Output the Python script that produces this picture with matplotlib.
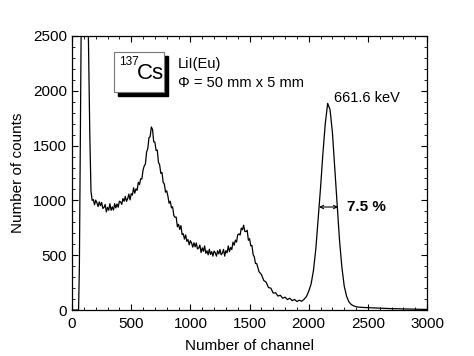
import numpy as np
import matplotlib
matplotlib.use("Agg")
import matplotlib.pyplot as plt
from matplotlib.patches import Rectangle
from matplotlib.ticker import MultipleLocator

plt.rcParams['font.family'] = ['Liberation Sans', 'DejaVu Sans']

# low-energy spike (goes off the top of the plot)
spike_ch = [0, 55, 62, 70, 80, 130, 138, 150]
spike_counts = [0, 0, 400, 1500, 3000, 3000, 2500, 1600]

# noisy part, read every 10 channels from 160 to 1560
fine_ch = np.arange(160, 1561, 10)
fine_counts = [
    1085, 1000, 1008, 960, 1003, 979, 944, 987, 952, 982, 927, 936, 963, 895, 937, 911,
    970, 910, 941, 912, 970, 932, 968, 938, 993, 986, 964, 1017, 992, 1037, 992, 1016,
    1058, 1005, 1062, 1048, 1115, 1066, 1106, 1092, 1165, 1145, 1198, 1195, 1278, 1314,
    1334, 1442, 1472, 1572, 1582, 1670, 1648, 1535, 1532, 1456, 1460, 1348, 1326, 1247,
    1255, 1165, 1148, 1075, 1088, 1039, 974, 992, 932, 942, 862, 846, 848, 760, 782, 736,
    770, 688, 696, 647, 685, 627, 643, 595, 633, 611, 574, 614, 577, 612, 557, 566,
    593, 525, 567, 536, 585, 518, 541, 504, 555, 507, 533, 492, 538, 523, 492, 541,
    512, 553, 504, 519, 553, 492, 542, 523, 585, 533, 571, 552, 620, 592, 638, 620,
    688, 694, 684, 747, 732, 774, 717, 716, 728, 637, 652, 586, 590, 505, 486, 425,
    425,
]

# smoother part, read every 20 channels from 1580 to 3000
coarse_ch = np.arange(1580, 3001, 20)
coarse_counts = [
    350, 325, 270, 255, 205, 200, 155, 158, 128, 135, 108, 118, 96, 108, 86, 97,
    78, 90, 80, 98, 122, 172,
    238, 362, 558, 832, 1118, 1432, 1702, 1885, 1828, 1622, 1298, 962, 638, 392, 218,
    126, 74, 50, 38, 31, 27, 25, 24, 23, 21,
    20, 19, 18, 18, 17, 16, 15, 15, 14, 13, 13, 12, 12, 11, 11, 10, 10, 9, 9, 8,
    8, 7, 7, 6, 6,
]

channels = np.concatenate([spike_ch, fine_ch, coarse_ch])
counts = np.concatenate([spike_counts, fine_counts, coarse_counts])

fig = plt.figure(figsize=(4.74, 3.56), dpi=100)
ax = fig.add_axes([0.152, 0.129, 0.749, 0.770])

ax.plot(channels, counts, color='black', lw=0.9)

ax.set_xlim(0, 3000)
ax.set_ylim(0, 2500)
ax.xaxis.set_major_locator(MultipleLocator(500))
ax.xaxis.set_minor_locator(MultipleLocator(100))
ax.yaxis.set_major_locator(MultipleLocator(500))
ax.yaxis.set_minor_locator(MultipleLocator(100))
ax.tick_params(which='both', direction='in', top=True, right=True, labelsize=11)
ax.tick_params(which='major', length=4, width=0.8)
ax.tick_params(which='minor', length=2, width=0.6)
ax.tick_params(axis='x', which='major', pad=5)
for s in ax.spines.values():
    s.set_linewidth(0.9)

ax.set_xlabel("Number of channel", fontsize=11, labelpad=6)
ax.set_ylabel("Number of counts", fontsize=11, labelpad=6)

# isotope box with shadow
ax.add_patch(Rectangle((0.129, 0.781), 0.141, 0.146, transform=ax.transAxes,
                       facecolor='black', edgecolor='black', zorder=4))
ax.add_patch(Rectangle((0.118, 0.796), 0.141, 0.146, transform=ax.transAxes,
                       facecolor='white', edgecolor='#777777', lw=0.8, zorder=5))
ax.text(0.133, 0.905, "137", transform=ax.transAxes, fontsize=8.5, va='center', zorder=6)
ax.text(0.183, 0.862, "Cs", transform=ax.transAxes, fontsize=16, va='center', zorder=6)

ax.text(0.299, 0.897, "LiI(Eu)", transform=ax.transAxes, fontsize=10.5, va='center')
ax.text(0.299, 0.828, "\u03a6 = 50 mm x 5 mm", transform=ax.transAxes, fontsize=10.5,
        va='center')

# peak annotations
ax.text(2210, 1935, "661.6 keV", fontsize=10.5, va='center')
ax.annotate("", xy=(2087, 940), xytext=(2248, 940),
            arrowprops=dict(arrowstyle='<->', lw=0.8, color='black', mutation_scale=6,
                            shrinkA=0, shrinkB=0))
ax.text(2325, 940, "7.5 %", fontsize=11, fontweight='bold', va='center')

fig.savefig("out.png", dpi=100)
